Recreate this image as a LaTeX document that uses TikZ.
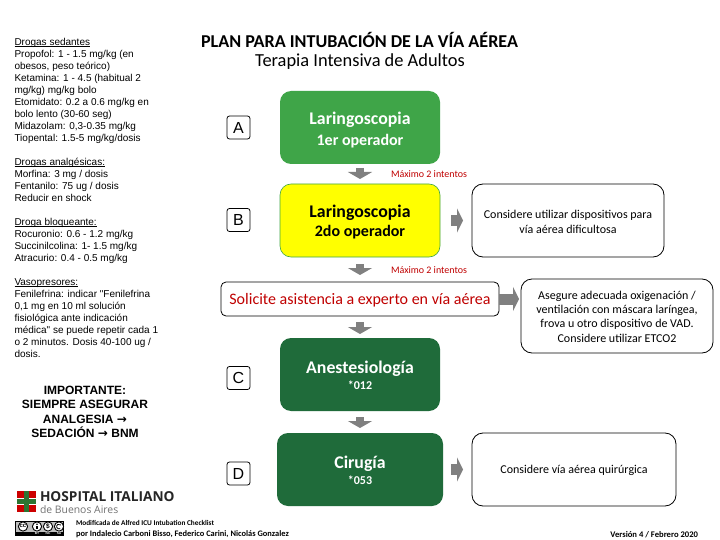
\documentclass[tikz,border=0pt]{standalone}
\usepackage{fontspec}
\setmainfont{Carlito}
\newfontfamily\arialf{Liberation Sans}
\newfontfamily\dejaf{DejaVu Sans}
\newfontfamily\opensf{Open Sans}
\usetikzlibrary{arrows.meta}
\definecolor{gA}{HTML}{3FA548}
\definecolor{gD}{HTML}{1F6B3A}
\definecolor{ye}{HTML}{FFFF00}
\definecolor{rd}{HTML}{C00000}
\definecolor{arr}{HTML}{808080}
\newcommand\ulhead[1]{\setbox0\hbox{#1}\rlap{\rule[-1.3pt]{\wd0}{0.8pt}}#1}
\tikzset{
  every node/.style={inner sep=0pt,outer sep=0pt},
  flowbox/.style={rounded corners=11pt,draw=none,anchor=north west},
  outlinebox/.style={rounded corners=11pt,draw=black,line width=0.8pt,fill=white,anchor=north west},
  letterbox/.style={rounded corners=2.5pt,draw=black,line width=0.8pt,fill=white,anchor=north west},
  lettertext/.style={font=\fontsize{16}{16}\selectfont\arialf},
  leftnote/.style={anchor=north west,align=left,font=\fontsize{10}{12}\selectfont\arialf},
  redsmall/.style={text=rd,font=\fontsize{10}{11}\selectfont},
  downarrow/.style={line width=8pt,draw=arr,-{Triangle[width=24pt,length=7pt]},shorten <=#1},
  downarrow/.default=4pt,
  rightarrow/.style={line width=11pt,draw=arr,-{Triangle[width=24pt,length=6pt]}},
  boxtitle/.style={font=\fontsize{17.8}{18}\selectfont\bfseries},
  boxsub/.style={font=\fontsize{16}{16}\selectfont\bfseries},
  phonetext/.style={font=\fontsize{12}{12}\selectfont\bfseries,text=white},
  bodytext/.style={align=center,font=\fontsize{12}{15}\selectfont}
}
\begin{document}
\begin{tikzpicture}[x=1pt,y=-1pt]
\useasboundingbox (0,0) rectangle (720,540);
\fill[white] (0,0) rectangle (720,540);

% title
\node[font=\fontsize{18.1}{18}\selectfont\bfseries] (title) at (359.5,40) {PLAN PARA INTUBACIÓN DE LA VÍA AÉREA};
\node[font=\fontsize{18.4}{18}\selectfont] (subtitle) at (360,61.5) {Terapia Intensiva de Adultos};

% left column
\node[leftnote] (sed) at (14.5,38.5) {\ulhead{Drogas sedantes}\\Propofol: 1 - 1.5 mg/kg (en\\obesos, peso teórico)\\Ketamina: 1 - 4.5 (habitual 2\\mg/kg) mg/kg bolo\\Etomidato: 0.2 a 0.6 mg/kg en\\bolo lento (30-60 seg)\\Midazolam: 0,3-0.35 mg/kg\\Tiopental: 1.5-5 mg/kg/dosis};
\node[leftnote] (ana) at (14.5,158.5) {\ulhead{Drogas analgésicas:}\\Morfina: 3 mg / dosis\\Fentanilo: 75 ug / dosis\\Reducir en shock};
\node[leftnote] (blo) at (14.5,218.5) {\ulhead{Droga bloqueante:}\\Rocuronio: 0.6 - 1.2 mg/kg\\Succinilcolina: 1- 1.5 mg/kg\\Atracurio: 0.4 - 0.5 mg/kg};
\node[leftnote] (vaso) at (14.5,278.5) {\ulhead{Vasopresores:}\\Fenilefrina: indicar "Fenilefrina\\0,1 mg en 10 ml solución\\fisiológica ante indicación\\médica" se puede repetir cada 1\\o 2 minutos. Dosis 40-100 ug /\\dosis.};
\node[align=center,font=\fontsize{12}{14.5}\selectfont\arialf\bfseries] (imp) at (85,412) {IMPORTANTE:\\SIEMPRE ASEGURAR\\ANALGESIA {\dejaf\bfseries→}\\SEDACIÓN {\dejaf\bfseries→} BNM};

% flow boxes
\node[flowbox,fill=gA,minimum width=160pt,minimum height=73pt] (A) at (280,91) {};
\node[boxtitle,text=white] (At) at (360,119.5) {Laringoscopia};
\node[boxsub,text=white] (As) at (360,141) {1er operador};

\node[flowbox,fill=ye,draw=gA,line width=0.6pt,minimum width=160pt,minimum height=73pt] (B) at (280,184) {};
\node[boxtitle] (Bt) at (360,212.5) {Laringoscopia};
\node[boxsub] (Bs) at (360,232) {2do operador};

\node[outlinebox,minimum width=278pt,minimum height=34pt,rounded corners=5pt] (S) at (221,282) {};
\node[text=rd,font=\fontsize{16}{16}\selectfont] (St) at (360,300.5) {Solicite asistencia a experto en vía aérea};

\node[flowbox,fill=gD,minimum width=160pt,minimum height=73pt] (C) at (280,338) {};
\node[boxtitle,text=white] (Ct) at (360,368.5) {Anestesiología};
\node[phonetext] (Cs) at (360,385) {*012};

\node[flowbox,fill=gD,minimum width=166pt,minimum height=73pt] (D) at (277,433) {};
\node[boxtitle,text=white] (Dt) at (360,463.5) {Cirugía};
\node[phonetext] (Ds) at (360,480) {*053};

% letter boxes
\node[letterbox,minimum width=23pt,minimum height=23pt] (LA) at (227,116) {};
\node[lettertext] (TA) at (LA.center) {A};
\node[letterbox,minimum width=23pt,minimum height=23pt] (LB) at (227,208.5) {};
\node[lettertext] (TB) at (LB.center) {B};
\node[letterbox,minimum width=23pt,minimum height=23pt] (LC) at (227,366.5) {};
\node[lettertext] (TC) at (LC.center) {C};
\node[letterbox,minimum width=23pt,minimum height=23pt] (LD) at (227,462) {};
\node[lettertext] (TD) at (LD.center) {D};

% right boxes
\node[outlinebox,minimum width=192pt,minimum height=73pt] (R1) at (472,184) {};
\node[bodytext] (R1t) at (568,222) {Considere utilizar dispositivos para\\vía aérea dificultosa};
\node[outlinebox,minimum width=192pt,minimum height=74pt] (R2) at (521,279) {};
\node[bodytext,font=\fontsize{12}{14.3}\selectfont] (R2t) at (617,316.7) {Asegure adecuada oxigenación /\\ventilación con máscara laríngea,\\frova u otro dispositivo de VAD.\\Considere utilizar ETCO2};
\node[outlinebox,minimum width=204pt,minimum height=73pt] (R3) at (472,433) {};
\node[bodytext] (R3t) at (574,470.5) {Considere vía aérea quirúrgica};

% red notes
\node[redsmall] (m1) at (429,174) {Máximo 2 intentos};
\node[redsmall] (m2) at (429,270) {Máximo 2 intentos};

% connectors
\draw[downarrow] (A.south) -- ([yshift=5pt]B.north);
\draw[downarrow=7pt] (B.south) -- ([yshift=7pt]S.north);
\draw[downarrow=6pt] (S.south) -- ([yshift=4pt]C.north);
\draw[downarrow=6pt] (C.south) -- ([yshift=5pt]D.north);
\draw[rightarrow,shorten <=11pt,shorten >=9pt] (B.east) -- (R1.west);
\draw[rightarrow] (S.east) -- ([xshift=-2pt]S.east -| R2.west);
\draw[rightarrow,shorten <=8pt,shorten >=9pt] (D.east) -- (R3.west);

% hospital logo
\fill[red!80!black] (17,491) rectangle (24,498);
\fill[red!80!black] (29,491) rectangle (36,498);
\fill[red!80!black] (17,505) rectangle (24,512);
\fill[red!80!black] (29,505) rectangle (36,512);
\fill[gA!70!black] (24,491) rectangle (29,512);
\fill[gA!70!black] (17,499) rectangle (36,504);
\node[anchor=west,font=\fontsize{13.7}{14}\selectfont\opensf\bfseries,text=black!85] (hosp) at (40,497) {HOSPITAL ITALIANO};
\node[anchor=west,font=\fontsize{10.4}{10}\selectfont\opensf,text=black!55] (bue) at (40,510) {de Buenos Aires};

% cc badge
\fill[black] (14.5,521) rectangle (64,536);
\fill[black!25] (15.5,522) rectangle (63,531.5);
\foreach \cx in {23,37,48,59}{\fill[white,draw=black,line width=0.9pt] (\cx,526.5) circle (4.6);}
\node[font=\fontsize{6}{6}\selectfont\arialf\bfseries] (cc) at (23,526.3) {cc};
\fill (37,524.3) circle (0.9);
\fill (35.8,525.6) rectangle (38.2,529);
\node[font=\fontsize{6.5}{6}\selectfont\arialf\bfseries] (nc) at (48,526.5) {\$};
\draw[line width=0.8pt] (59,526.5) ++(60:2.4) arc (60:320:2.4);
\node[text=white,font=\fontsize{3.2}{3}\selectfont\arialf\bfseries] (by) at (37,533.8) {BY};
\node[text=white,font=\fontsize{3.2}{3}\selectfont\arialf\bfseries] (ncl) at (48,533.8) {NC};
\node[text=white,font=\fontsize{3.2}{3}\selectfont\arialf\bfseries] (sa) at (59,533.8) {SA};

% credits
\node[anchor=west,font=\fontsize{7.3}{8}\selectfont\bfseries] (cr1) at (76,523) {Modificada de Alfred ICU Intubation Checklist};
\node[anchor=west,font=\fontsize{8.4}{8}\selectfont\bfseries] (cr2) at (76,534) {por Indalecio Carboni Bisso, Federico Carini, Nicolás Gonzalez};
\node[anchor=east,font=\fontsize{8.6}{8}\selectfont\bfseries] (ver) at (698,535) {Versión 4 / Febrero 2020};
\end{tikzpicture}
\end{document}
